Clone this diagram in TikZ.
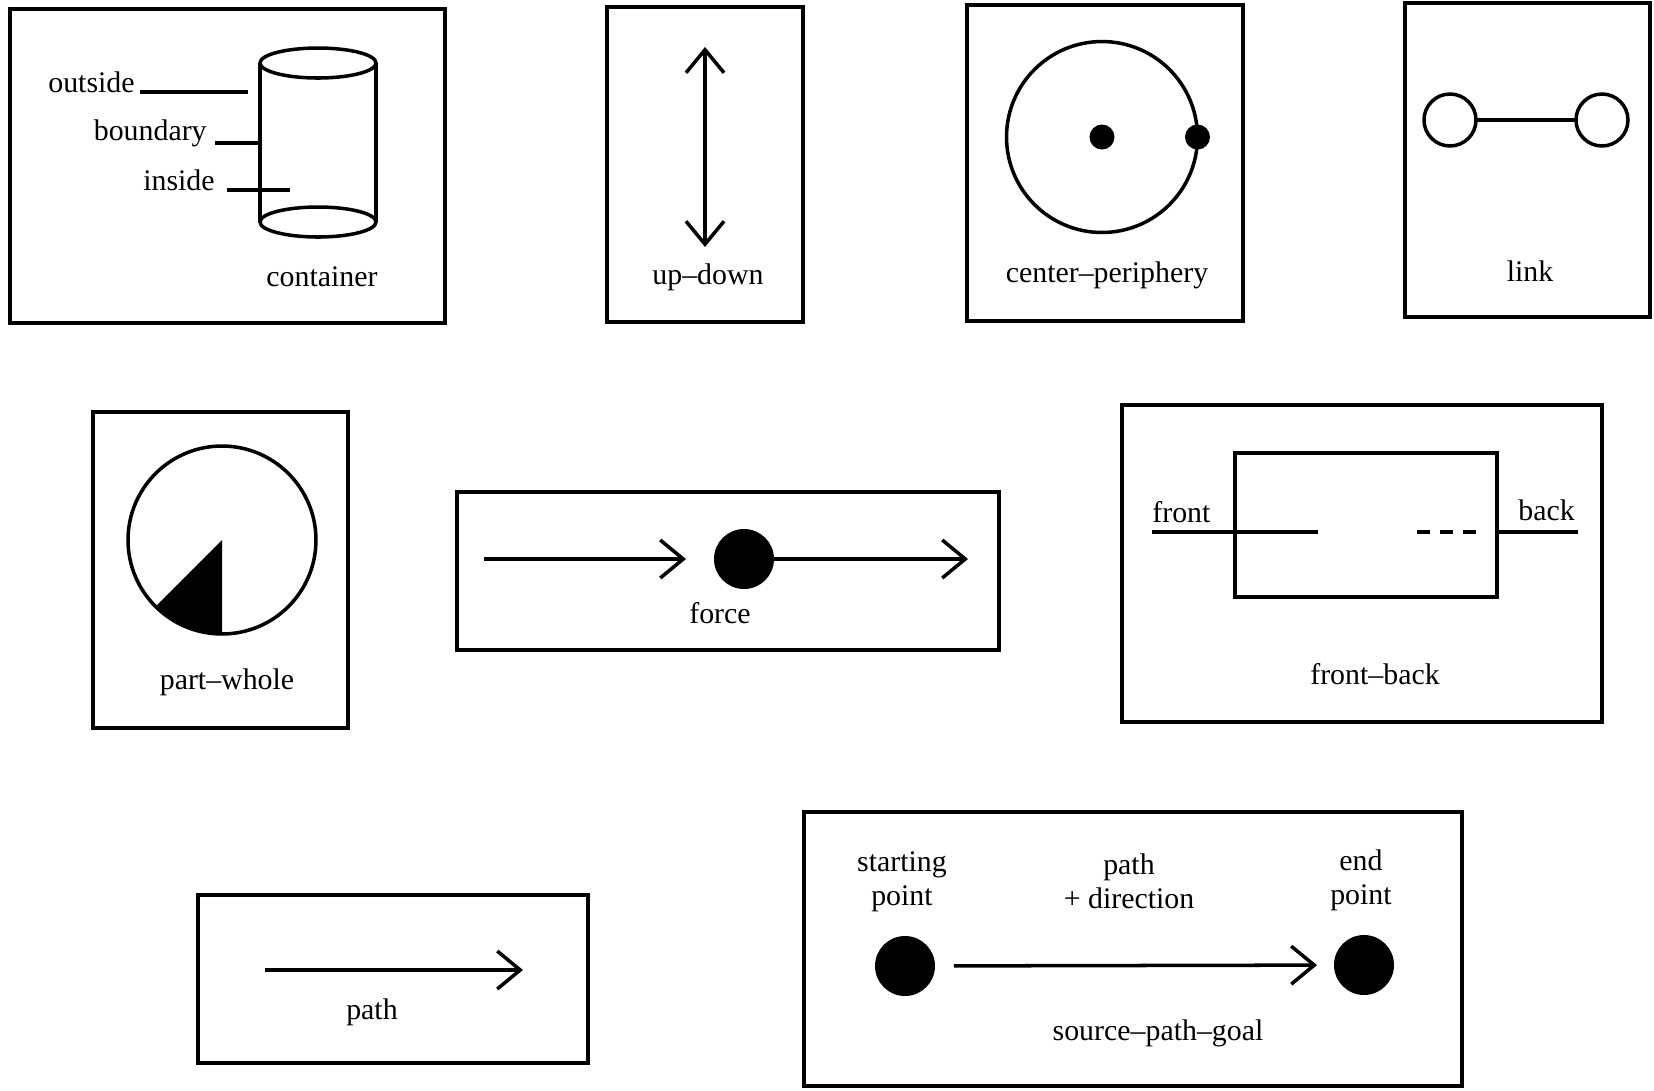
\documentclass[tikz,border=0pt]{standalone}
\usepackage{fontspec}
\setmainfont{Liberation Serif}
\usetikzlibrary{arrows.meta}

\tikzset{frame/.style={line width=2.6pt},
         stroke/.style={line width=2pt},
         schemaname/.style={font=\fontsize{17}{19.5}\selectfont,inner sep=0pt},
         tag/.style={schemaname,align=center},
         dot/.style={circle,fill,draw=none,inner sep=0pt,outer sep=0pt,minimum size=#1},
         ring/.style={circle,draw,line width=2pt,inner sep=0pt,outer sep=0pt,minimum size=#1},
         >={Straight Barb[length=0.46cm,width=0.76cm]}}

\begin{document}
\begin{tikzpicture}[x=0.02cm,y=-0.02cm]
\useasboundingbox (0,0) rectangle (1654,1090);

% container
\draw[frame] (10,9) rectangle (445,323);
\draw[stroke] (260,63) -- (260,222) (376,63) -- (376,222);
\draw[stroke] (318,63) ellipse[x radius=58,y radius=15];
\draw[stroke] (318,222) ellipse[x radius=58,y radius=15];
\node[schemaname,anchor=base east] (outside) at (135,92) {outside};
\node[schemaname,anchor=base east] (boundary) at (207,140) {boundary};
\node[schemaname,anchor=base east] (inside) at (215,190) {inside};
\coordinate (outside end) at (248,92);
\coordinate (boundary end) at (260,143);
\coordinate (inside end) at (290,190);
\draw[stroke,shorten <=0.1cm] (outside.base east) -- (outside end);
\draw[stroke,shorten <=0.16cm] (boundary.base east |- boundary end) -- (boundary end);
\draw[stroke,shorten <=0.24cm] (inside.base east) -- (inside end);
\node[schemaname] (container) at (322,277) {container};

% up-down
\draw[frame] (607,7) rectangle (803,322);
\coordinate (up) at (705,47);
\coordinate (down) at (705,247);
\draw[stroke,<->] (up) -- (down);
\node[schemaname] (updown) at (708,277) {up--down};

% center-periphery
\draw[frame] (967,5) rectangle (1243,321);
\node[ring=3.82cm] (cp) at (1102,137) {};
\node[dot=0.5cm] (cp centre) at (cp.center) {};
\node[dot=0.5cm] (cp edge) at (cp.east) {};
\node[schemaname] (centper) at (1107,275) {center--periphery};

% link
\draw[frame] (1405,3) rectangle (1650,317);
\node[ring=1.04cm] (link a) at (1450,120) {};
\node[ring=1.04cm] (link b) at (1602,120) {};
\draw[stroke] (link a) -- (link b);
\node[schemaname] (link) at (1530,271) {link};

% part-whole
\draw[frame] (93,412) rectangle (348,728);
\node[ring=3.76cm] (pw) at (222,540) {};
\fill (pw.center) -- (pw.south) arc[start angle=270,end angle=225,radius=1.88cm] -- cycle;
\node[schemaname] (partwhole) at (227,682) {part--whole};

% force
\draw[frame] (457,492) rectangle (999,650);
\node[dot=1.2cm] (fdot) at (744,559) {};
\coordinate (force in) at (484,559);
\coordinate (force out) at (968,559);
\draw[stroke,->,shorten >=0.56cm] (force in) -- (fdot);
\draw[stroke,->] (fdot) -- (force out);
\node[schemaname] (force) at (720,613) {force};

% front-back
\draw[frame] (1122,405) rectangle (1602,722);
\draw[frame] (1235,453) rectangle (1497,597);
\coordinate (fb a) at (1152,532);
\coordinate (fb b) at (1318,532);
\coordinate (fb c) at (1417,532);
\coordinate (fb d) at (1478,532);
\coordinate (fb e) at (1497,532);
\coordinate (fb f) at (1578,532);
\draw[stroke] (fb a) -- (fb b);
\draw[stroke,line width=2.6pt,line cap=butt,dash pattern=on 0.26cm off 0.2cm] (fb c) -- (fb d);
\draw[stroke] (fb e) -- (fb f);
\node[schemaname,anchor=base west] (front) at (1152,522) {front};
\node[schemaname,anchor=base west] (back) at (1518,520) {back};
\node[schemaname] (frontback) at (1375,674) {front--back};

% path
\draw[frame] (198,895) rectangle (588,1063);
\coordinate (path start) at (265,970);
\coordinate (path end) at (523,970);
\draw[stroke,->] (path start) -- (path end);
\node[schemaname] (path) at (372,1012) {path};

% source-path-goal
\draw[frame] (804,812) rectangle (1462,1086);
\node[dot=1.2cm] (src) at (905,966) {};
\node[dot=1.2cm] (goal) at (1364,965) {};
\draw[stroke,->,shorten <=0.38cm,shorten >=0.34cm] (src) -- (goal);
\node[tag] (src name) at (902,882) {starting\\point};
\node[tag] (dir name) at (1129,881) {path\\+ direction};
\node[tag] (goal name) at (1361,880) {end\\point};
\node[schemaname] (spg) at (1158,1033) {source--path--goal};
\end{tikzpicture}
\end{document}
